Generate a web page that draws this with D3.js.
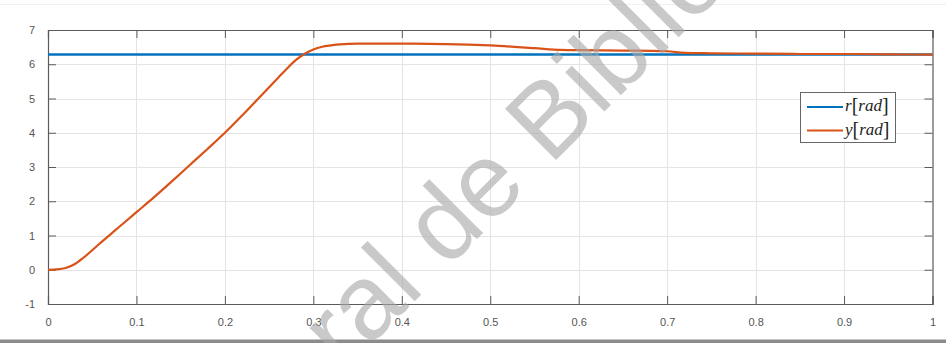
<!DOCTYPE html>
<html>
<head>
<meta charset="utf-8">
<script src="https://cdn.jsdelivr.net/npm/d3@7"></script>
<style>
  html, body { margin: 0; padding: 0; background: #fff; }
  svg { display: block; }
</style>
</head>
<body>
<svg id="chart" width="946" height="343"></svg>
<script>
// ---- data ----
const xTicks = [0, 0.1, 0.2, 0.3, 0.4, 0.5, 0.6, 0.7, 0.8, 0.9, 1];
const xTickLabels = ["0", "0.1", "0.2", "0.3", "0.4", "0.5", "0.6", "0.7", "0.8", "0.9", "1"];
const yTicks = [-1, 0, 1, 2, 3, 4, 5, 6, 7];
const yTickLabels = ["-1", "0", "1", "2", "3", "4", "5", "6", "7"];

const refTime = [0, 1];
const refValue = [6.2832, 6.2832];

const outTime = [0, 0.01, 0.02, 0.03, 0.04, 0.05, 0.06, 0.07, 0.08, 0.09, 0.10,
  0.12, 0.14, 0.16, 0.18, 0.20, 0.22, 0.24, 0.26, 0.27, 0.28, 0.29, 0.30, 0.31,
  0.32, 0.33, 0.35, 0.40, 0.45, 0.50, 0.55, 0.58, 0.60, 0.65, 0.70, 0.72, 0.75,
  0.80, 0.85, 0.90, 0.95, 1.00];
const outValue = [0, 0.01, 0.05, 0.16, 0.35, 0.57, 0.80, 1.02, 1.24, 1.46, 1.68,
  2.12, 2.58, 3.05, 3.52, 4.00, 4.52, 5.06, 5.60, 5.87, 6.12, 6.30, 6.43, 6.51,
  6.55, 6.58, 6.60, 6.60, 6.59, 6.55, 6.47, 6.42, 6.41, 6.40, 6.38, 6.33, 6.32,
  6.31, 6.30, 6.30, 6.29, 6.28];

const legendNames = ["r", "y"];
const legendUnit = "rad";
const watermarkText = "General de Bibliotecas";

// ---- chart ----
const svg = d3.select("#chart");
const W = 946, H = 343;
const x = d3.scaleLinear().domain([0, 1]).range([48, 932.5]);
const y = d3.scaleLinear().domain([-1, 7]).range([304, 30]);

const blue = "#0072BD", orange = "#D95319";
const axisColor = "#5a5a5a";
const gridColor = "#e4e4e4";
const labelColor = "#555";
const fontFam = "'Liberation Sans', Arial, Helvetica, sans-serif";

// frame decorations
svg.append("line").attr("x1", 0).attr("x2", W).attr("y1", 4.5).attr("y2", 4.5)
  .attr("stroke", "#f0f0f0").attr("stroke-width", 1);
svg.append("rect").attr("x", 0).attr("y", 339.5).attr("width", W).attr("height", 3.5)
  .attr("fill", "#8c8c8c");

// grid
const grid = svg.append("g");
grid.selectAll("line.gx").data(xTicks.slice(1, -1)).join("line")
  .attr("x1", d => Math.round(x(d)) + 0.5).attr("x2", d => Math.round(x(d)) + 0.5)
  .attr("y1", y(7)).attr("y2", y(-1))
  .attr("stroke", gridColor).attr("stroke-width", 1);
grid.selectAll("line.gy").data(yTicks.slice(1, -1)).join("line")
  .attr("y1", d => Math.round(y(d)) + 0.5).attr("y2", d => Math.round(y(d)) + 0.5)
  .attr("x1", x(0)).attr("x2", x(1))
  .attr("stroke", gridColor).attr("stroke-width", 1);

// axes (MATLAB box with inward ticks)
const tickLen = 8;
const xAxisB = d3.axisBottom(x).tickValues(xTicks).tickSize(-tickLen).tickPadding(tickLen + 6)
  .tickFormat((d, i) => xTickLabels[i]);
const xAxisT = d3.axisTop(x).tickValues(xTicks).tickSize(-tickLen).tickFormat("");
const yAxisL = d3.axisLeft(y).tickValues(yTicks).tickSize(-tickLen).tickPadding(tickLen + 5)
  .tickFormat((d, i) => yTickLabels[i]);
const yAxisR = d3.axisRight(y).tickValues(yTicks).tickSize(-tickLen).tickFormat("");

function styleAxis(g) {
  g.select(".domain").attr("stroke", axisColor).attr("stroke-width", 1.2);
  g.selectAll(".tick line").attr("stroke", axisColor).attr("stroke-width", 1);
  g.selectAll(".tick text").attr("fill", labelColor).attr("font-size", 11)
    .attr("font-family", fontFam);
}
svg.append("g").attr("transform", `translate(0,${y(-1)})`).call(xAxisB).call(styleAxis);
svg.append("g").attr("transform", `translate(0,${y(7)})`).call(xAxisT).call(styleAxis);
svg.append("g").attr("transform", `translate(${x(0)},0)`).call(yAxisL).call(styleAxis);
svg.append("g").attr("transform", `translate(${x(1)},0)`).call(yAxisR).call(styleAxis);

// lines
const line = d3.line().x(d => x(d[0])).y(d => y(d[1])).curve(d3.curveMonotoneX);
const refData = refTime.map((t, i) => [t, refValue[i]]);
const outData = outTime.map((t, i) => [t, outValue[i]]);

svg.append("path").datum(refData).attr("d", line)
  .attr("fill", "none").attr("stroke", blue).attr("stroke-width", 2.4);
svg.append("path").datum(outData).attr("d", line)
  .attr("fill", "none").attr("stroke", orange).attr("stroke-width", 2.2);

// legend
const lg = svg.append("g");
lg.append("rect").attr("x", 800.5).attr("y", 92.5).attr("width", 95).attr("height", 50)
  .attr("fill", "#fff").attr("stroke", "#666").attr("stroke-width", 1);
const legColors = [blue, orange];
const rowY = [107, 130.5];
legendNames.forEach((nm, i) => {
  lg.append("line").attr("x1", 807).attr("x2", 843).attr("y1", rowY[i]).attr("y2", rowY[i])
    .attr("stroke", legColors[i]).attr("stroke-width", 1.8);
  const t = lg.append("text").attr("x", 845).attr("y", rowY[i] + 4)
    .attr("font-family", "'Liberation Serif', 'DejaVu Serif', serif")
    .attr("font-size", 17).attr("fill", "#222");
  t.append("tspan").attr("font-style", "italic").text(nm);
  t.append("tspan").attr("font-size", 20).attr("dy", 1).text("[");
  t.append("tspan").attr("font-style", "italic").attr("dy", -1).text(legendUnit);
  t.append("tspan").attr("font-size", 20).attr("dy", 1).text("]");
});

// watermark
svg.append("text")
  .attr("transform", "translate(162,554) rotate(-45)")
  .attr("font-family", fontFam).attr("font-size", 105)
  .attr("fill", "#a8a8a8").attr("fill-opacity", 0.62)
  .text(watermarkText);
</script>
</body>
</html>
